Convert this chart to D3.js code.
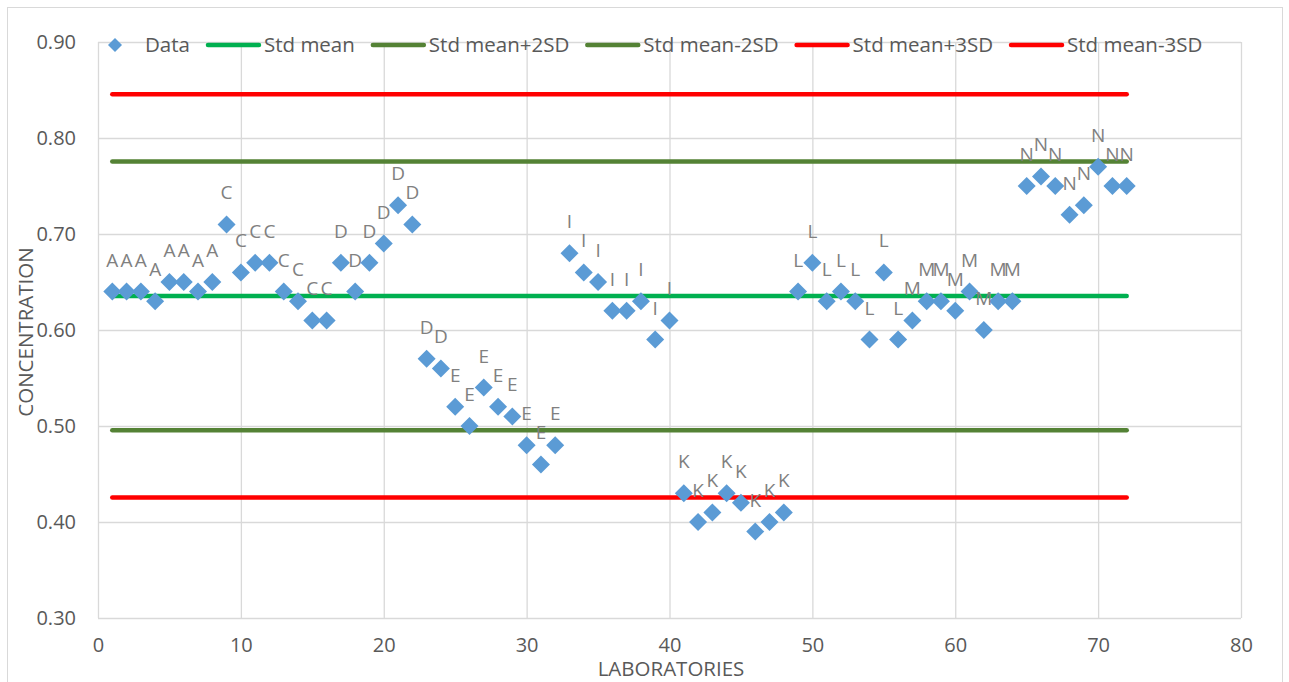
<!DOCTYPE html>
<html>
<head>
<meta charset="utf-8">
<script src="https://cdn.jsdelivr.net/npm/d3@7"></script>
<style>
  html, body { margin: 0; padding: 0; background: #fff; }
  svg { display: block; font-family: "Open Sans", sans-serif; }
</style>
</head>
<body>
<svg id="chart" width="1289" height="682"></svg>
<script>
// Laboratory results, one per lab (x = 1..72)
var labs = d3.range(1, 73);
var concentrations = [
  0.64, 0.64, 0.64, 0.63, 0.65, 0.65, 0.64, 0.65,
  0.71, 0.66, 0.67, 0.67, 0.64, 0.63, 0.61, 0.61,
  0.67, 0.64, 0.67, 0.69, 0.73, 0.71, 0.57, 0.56,
  0.52, 0.50, 0.54, 0.52, 0.51, 0.48, 0.46, 0.48,
  0.68, 0.66, 0.65, 0.62, 0.62, 0.63, 0.59, 0.61,
  0.43, 0.40, 0.41, 0.43, 0.42, 0.39, 0.40, 0.41,
  0.64, 0.67, 0.63, 0.64, 0.63, 0.59, 0.66, 0.59,
  0.61, 0.63, 0.63, 0.62, 0.64, 0.60, 0.63, 0.63,
  0.75, 0.76, 0.75, 0.72, 0.73, 0.77, 0.75, 0.75
];
var groups = ['A', 'C', 'D', 'E', 'I', 'K', 'L', 'M', 'N'];
// group label for each lab, in blocks of 8
var labLabels = labs.map(function(d, i) {
  if (i >= 22 && i < 24) return 'D';
  return groups[Math.floor(i / 8)];
});

// reference lines
var stdMean = 0.6355;
var stdDev = 0.07;
var refNames = ['Std mean', 'Std mean+2SD', 'Std mean-2SD', 'Std mean+3SD', 'Std mean-3SD'];
var refValues = [stdMean, stdMean + 2 * stdDev, stdMean - 2 * stdDev, stdMean + 3 * stdDev, stdMean - 3 * stdDev];
var refColors = ['#00b050', '#548235', '#548235', '#ff0000', '#ff0000'];

var xTicks = d3.range(0, 81, 10);
var yTicks = [0.30, 0.40, 0.50, 0.60, 0.70, 0.80, 0.90];

var svg = d3.select('#chart');
var margin = { left: 98, top: 42, right: 1241, bottom: 618 };

var x = d3.scaleLinear().domain([0, 80]).range([margin.left, margin.right]);
var y = d3.scaleLinear().domain([0.30, 0.90]).range([margin.bottom, margin.top]);

// outer chart frame
svg.append('rect')
  .attr('x', 7.5).attr('y', 7.5)
  .attr('width', 1275).attr('height', 690)
  .attr('fill', 'none')
  .attr('stroke', '#d9d9d9');

// gridlines + tick labels
var yAxis = svg.append('g')
  .attr('transform', 'translate(' + margin.left + ',0)')
  .call(d3.axisLeft(y).tickValues(yTicks).tickSize(-(margin.right - margin.left))
    .tickPadding(22).tickFormat(d3.format('.2f')));
var xAxis = svg.append('g')
  .attr('transform', 'translate(0,' + margin.bottom + ')')
  .call(d3.axisBottom(x).tickValues(xTicks).tickSize(-(margin.bottom - margin.top))
    .tickPadding(20));

[xAxis, yAxis].forEach(function(a) {
  a.select('.domain').remove();
  a.selectAll('.tick line').attr('stroke', '#d9d9d9').attr('stroke-width', 1.3);
  a.selectAll('.tick text')
    .attr('fill', '#595959')
    .style('font-size', '20px')
    .style('font-family', '"Open Sans", sans-serif');
});

// axis titles
svg.append('text')
  .attr('transform', 'translate(33,332) rotate(-90)')
  .attr('text-anchor', 'middle')
  .attr('fill', '#595959')
  .style('font-size', '20.5px')
  .text('CONCENTRATION');
svg.append('text')
  .attr('x', 671).attr('y', 676)
  .attr('text-anchor', 'middle')
  .attr('fill', '#595959')
  .style('font-size', '20.5px')
  .text('LABORATORIES');

// reference lines across labs 1..72
svg.append('g').selectAll('line')
  .data(refValues)
  .enter().append('line')
    .attr('x1', x(labs[0]))
    .attr('x2', x(labs[labs.length - 1]))
    .attr('y1', function(d) { return y(d); })
    .attr('y2', function(d) { return y(d); })
    .attr('stroke', function(d, i) { return refColors[i]; })
    .attr('stroke-width', 4.5)
    .attr('stroke-linecap', 'round');

// data points (diamonds)
var diamond = 'M0,-9L9,0L0,9L-9,0Z';
svg.append('g').selectAll('path')
  .data(labs)
  .enter().append('path')
    .attr('d', diamond)
    .attr('transform', function(d, i) { return 'translate(' + x(d) + ',' + y(concentrations[i]) + ')'; })
    .attr('fill', '#5b9bd5');

// group labels above each point
svg.append('g').selectAll('text')
  .data(labs)
  .enter().append('text')
    .attr('x', function(d) { return x(d); })
    .attr('y', function(d, i) { return y(concentrations[i]) - 25; })
    .attr('text-anchor', 'middle')
    .attr('fill', '#808080')
    .style('font-size', '19px')
    .text(function(d, i) { return labLabels[i]; });

// legend
var legend = svg.append('g').attr('transform', 'translate(0,45)');
var lx = 88;
var legendItems = [{ name: 'Data', type: 'point' }].concat(refNames.map(function(n, i) {
  return { name: n, type: 'line', color: refColors[i] };
}));
legendItems.forEach(function(item) {
  if (item.type === 'point') {
    legend.append('path')
      .attr('d', 'M0,-7L7,0L0,7L-7,0Z')
      .attr('transform', 'translate(' + (lx + 27) + ',0)')
      .attr('fill', '#5b9bd5');
    lx += 57;
  } else {
    legend.append('line')
      .attr('x1', lx + 2).attr('x2', lx + 53)
      .attr('stroke', item.color)
      .attr('stroke-width', 4.5)
      .attr('stroke-linecap', 'round');
    lx += 58;
  }
  var t = legend.append('text')
    .attr('x', lx)
    .attr('dy', '0.35em')
    .attr('fill', '#595959')
    .style('font-size', '20.5px')
    .text(item.name);
  lx += t.node().getComputedTextLength() + 16;
});
</script>
</body>
</html>
